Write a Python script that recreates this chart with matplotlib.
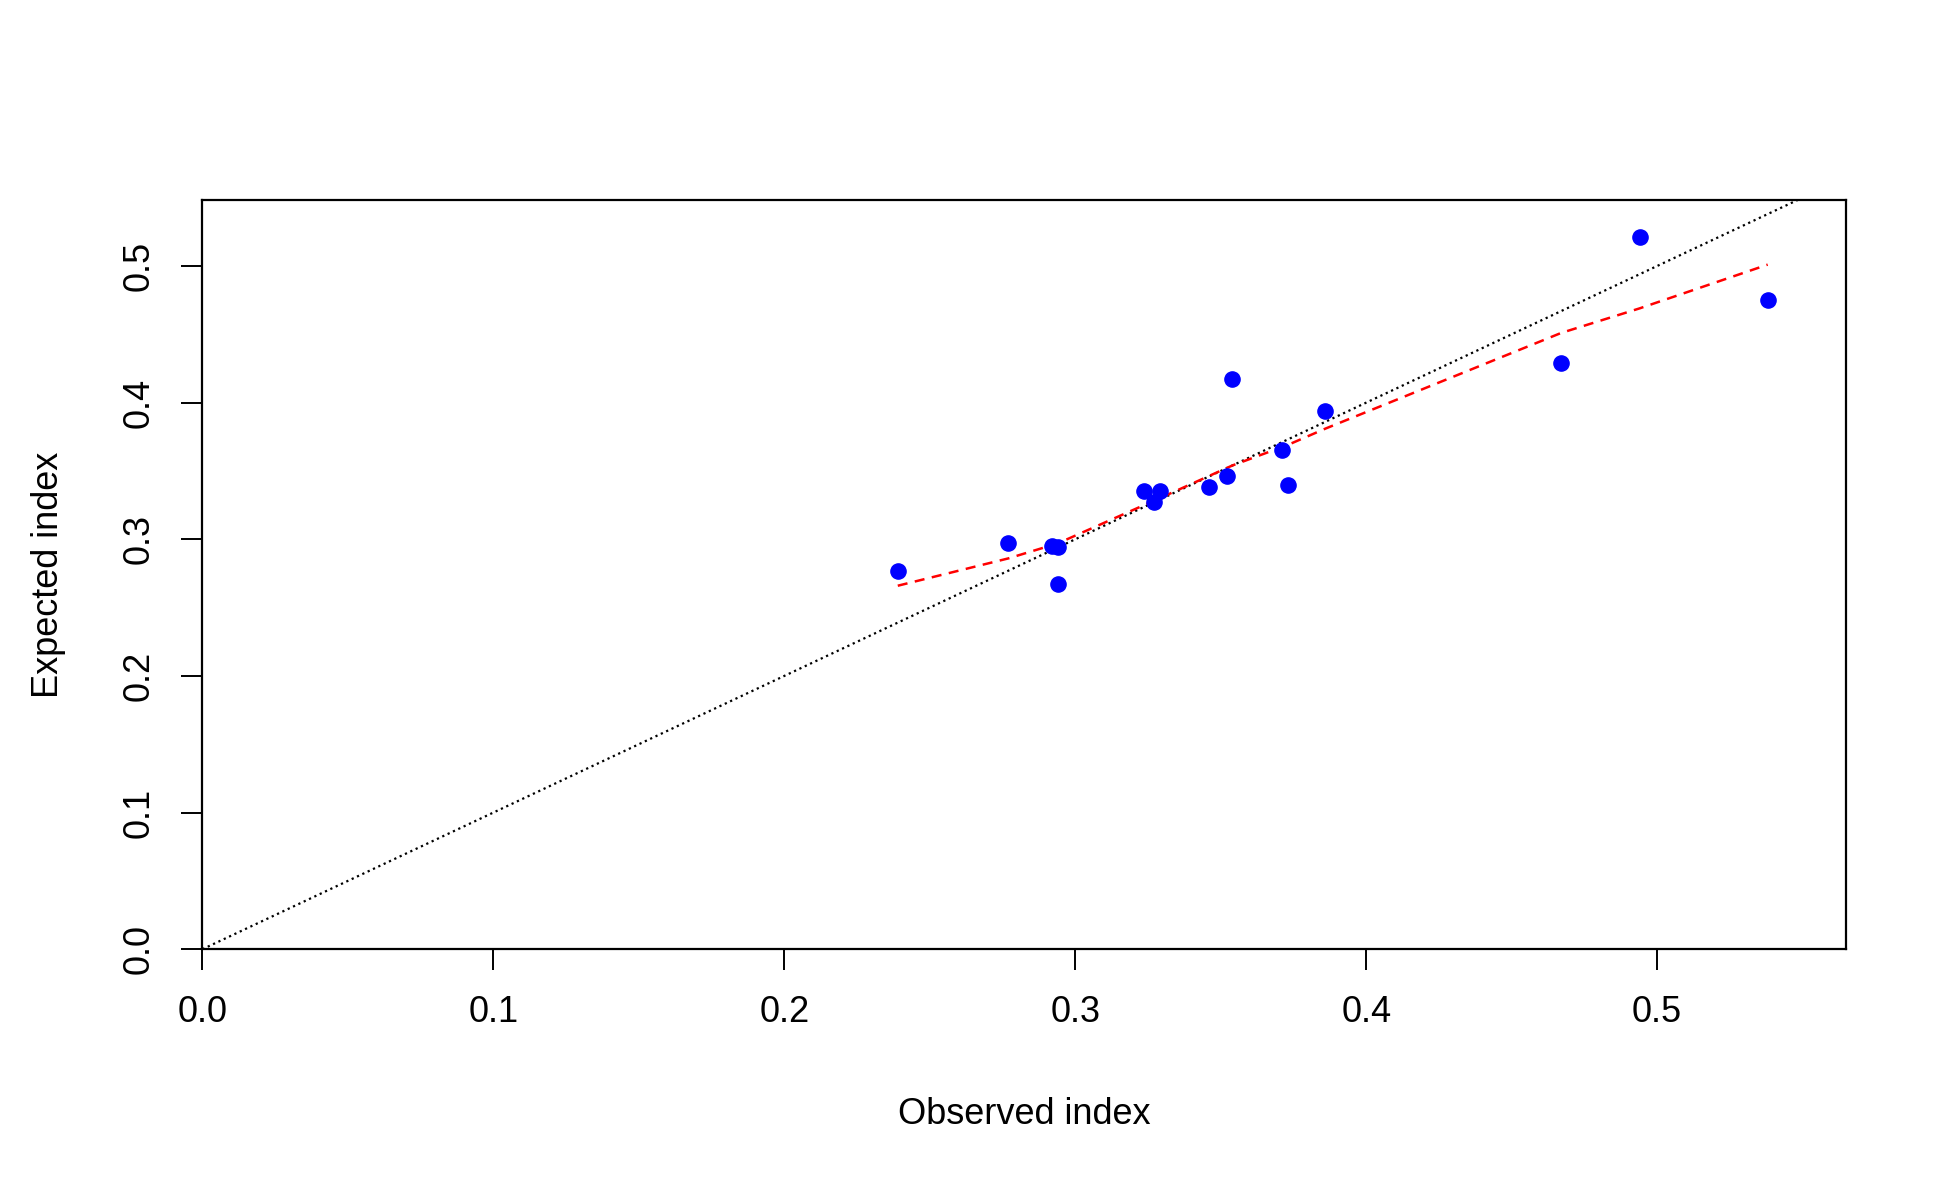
import numpy as np
from matplotlib import pyplot as plt

# observed vs expected index
observed = [0.239, 0.277, 0.292, 0.294, 0.294, 0.3235, 0.329, 0.327, 0.346, 0.352,
            0.354, 0.371, 0.373, 0.386, 0.467, 0.494, 0.538]
expected = [0.277, 0.297, 0.295, 0.294, 0.267, 0.335, 0.335, 0.327, 0.338, 0.346,
            0.417, 0.365, 0.340, 0.394, 0.429, 0.521, 0.475]

# smooth (loess) fit
fit_x = [0.239, 0.277, 0.294, 0.33, 0.354, 0.373, 0.386, 0.467, 0.494, 0.538]
fit_y = [0.266, 0.286, 0.297, 0.331, 0.354, 0.369, 0.381, 0.451, 0.469, 0.501]

xticks = [0.0, 0.1, 0.2, 0.3, 0.4, 0.5]
yticks = [0.0, 0.1, 0.2, 0.3, 0.4, 0.5]

plt.rcParams["font.family"] = "Liberation Sans"
fig = plt.figure(figsize=(19.5, 12), dpi=100)
ax = fig.add_axes([0.1038, 0.209, 0.8430, 0.624])

ax.plot([0, 0.6], [0, 0.6], linestyle=":", color="black", lw=1.6)
ax.plot(fit_x, fit_y, linestyle="--", color="red", lw=1.8, dashes=(4, 3))
ax.scatter(observed, expected, s=120, color="blue", zorder=3)

ax.set_xlim(0, 0.565)
ax.set_ylim(0, 0.548)
ax.set_xticks(xticks)
ax.set_xticklabels(["%.1f" % t for t in xticks])
ax.set_yticks(yticks)
ax.set_yticklabels(["%.1f" % t for t in yticks], rotation=90, va="center")
ax.tick_params(labelsize=26, length=15, width=1.4, pad=18)
for s in ax.spines.values():
    s.set_linewidth(1.6)

ax.set_xlabel("Observed index", fontsize=26, labelpad=48)
ax.set_ylabel("Expected index", fontsize=26, labelpad=40)

plt.savefig("out.png", dpi=100)
